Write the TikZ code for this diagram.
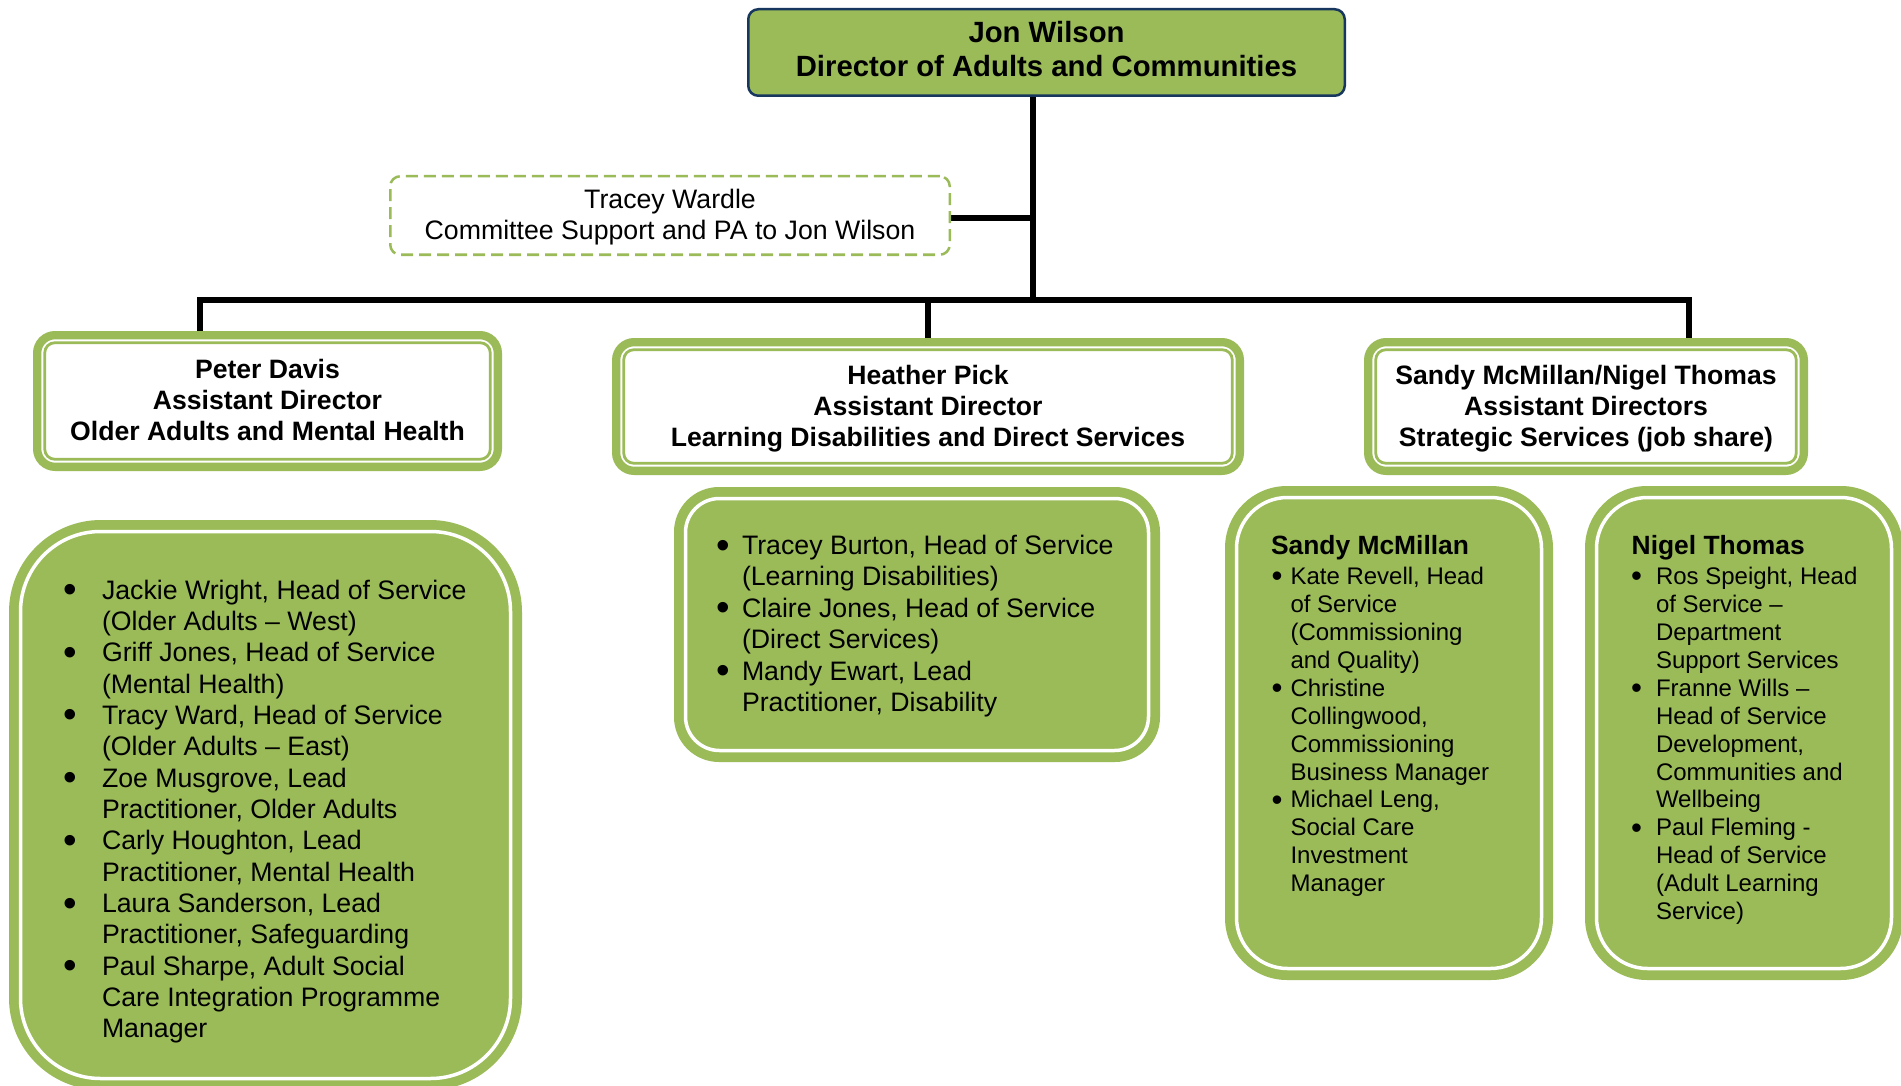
\documentclass[tikz,border=0pt]{standalone}
\usepackage{fontspec}
\usepackage{graphicx}
\setmainfont{Liberation Sans}
\definecolor{ogreen}{RGB}{155,187,89}
\definecolor{navyb}{RGB}{23,55,94}
\pgfdeclarelayer{bg}
\pgfsetlayers{bg,main}
\newcommand\BL[1]{\makebox[#1]{\raisebox{-3.5pt}{\scalebox{1.45}{•}}}}
\newcommand\BS[1]{\makebox[#1]{\raisebox{-2.2pt}{\scalebox{1.3}{•}}}}
\newcommand\ctab[1]{\begin{tabular}[t]{@{}c@{}}#1\end{tabular}}
\newcommand\fJon{\fontsize{29.3}{34}\selectfont\bfseries}
\newcommand\fLtwo{\fontsize{26.6}{31}\selectfont\bfseries}
\newcommand\fTW{\fontsize{26.7}{30.5}\selectfont}
\newcommand\fLeft{\fontsize{26.7}{31.35}\selectfont}
\newcommand\fMid{\fontsize{26.7}{31.4}\selectfont}
\newcommand\fRight{\fontsize{24}{27.9}\selectfont}
\newcommand\fTitle{\fontsize{26.4}{27.9}\selectfont\bfseries}
\begin{document}
\begin{tikzpicture}[x=1pt,y=-1pt,
  every node/.style={inner sep=0pt, outer sep=0pt},
  topbox/.style={draw=navyb, line width=2.5pt, fill=ogreen, rounded corners=10pt},
  dashbox/.style={draw=ogreen, line width=2.5pt, dash pattern=on 12pt off 6pt, rounded corners=10pt, fill=white},
  ltwobox/.style={draw=ogreen, line width=8.3pt, fill=white, rounded corners=18pt},
  ltwoinner/.style={draw=ogreen, line width=2.8pt, rounded corners=10pt},
  lthreebox/.style={fill=ogreen, draw=none},
  ring/.style={draw=white, line width=3.5pt},
  conn/.style={draw=black, line width=6pt, line cap=rect},
  ctxt/.style={anchor=base},
  ltxt/.style={anchor=base west},
]
\useasboundingbox (0,0) rectangle (1901,1086);
\clip (0,0) rectangle (1901,1086);

% top
\node[topbox, minimum width=596.5pt, minimum height=86.5pt] (jon) at (1046.5,52.5) {};
\node[ctxt] (jontxt) at (1046.5,43) {\fJon\ctab{Jon Wilson\\Director of Adults and Communities}};

% PA
\node[dashbox, minimum width=559.5pt, minimum height=78.5pt] (tracey) at (670,215.5) {};
\node[ctxt] (traceytxt) at (670,209) {\fTW\ctab{Tracey Wardle\\Committee Support and PA to Jon Wilson}};

% level 2
\node[ltwobox, minimum width=460.7pt, minimum height=131.7pt] (peter) at (267.5,401) {};
\draw[ltwoinner] ([shift={(7.6,7.6)}]peter.north west) rectangle ([shift={(-7.6,-7.6)}]peter.south east);
\node[ctxt] (petertxt) at (267.5,378.5) {\fLtwo\ctab{Peter Davis\\Assistant Director\\Older Adults and Mental Health}};

\node[ltwobox, minimum width=623.7pt, minimum height=128.7pt] (heather) at (928,406.5) {};
\draw[ltwoinner] ([shift={(7.6,7.6)}]heather.north west) rectangle ([shift={(-7.6,-7.6)}]heather.south east);
\node[ctxt] (heathertxt) at (928,384.5) {\fLtwo\ctab{Heather Pick\\Assistant Director\\Learning Disabilities and Direct Services}};

\node[ltwobox, minimum width=435.7pt, minimum height=128.7pt] (sn) at (1586,406.5) {};
\draw[ltwoinner] ([shift={(7.6,7.6)}]sn.north west) rectangle ([shift={(-7.6,-7.6)}]sn.south east);
\node[ctxt] (sntxt) at (1586,384.5) {\fLtwo\ctab{Sandy McMillan/Nigel Thomas\\Assistant Directors\\Strategic Services (job share)}};

% level 3
\node[lthreebox, rounded corners=92pt, minimum width=513pt, minimum height=570pt] (older) at (265.5,805) {};
\draw[ring, rounded corners=80pt] ([shift={(11.5,11.5)}]older.north west) rectangle ([shift={(-11.5,-11.5)}]older.south east);
\node[ltxt] (oldertxt) at (38,599) {\fLeft\begin{tabular}[t]{@{}l@{}l@{}}
\BL{64pt} & Jackie Wright, Head of Service\\
 & (Older Adults – West)\\
\BL{64pt} & Griff Jones, Head of Service\\
 & (Mental Health)\\
\BL{64pt} & Tracy Ward, Head of Service\\
 & (Older Adults – East)\\
\BL{64pt} & Zoe Musgrove, Lead\\
 & Practitioner, Older Adults\\
\BL{64pt} & Carly Houghton, Lead\\
 & Practitioner, Mental Health\\
\BL{64pt} & Laura Sanderson, Lead\\
 & Practitioner, Safeguarding\\
\BL{64pt} & Paul Sharpe, Adult Social\\
 & Care Integration Programme\\
 & Manager
\end{tabular}};

\node[lthreebox, rounded corners=45pt, minimum width=486pt, minimum height=275pt] (ld) at (917,624.5) {};
\draw[ring, rounded corners=34pt] ([shift={(11.5,11.5)}]ld.north west) rectangle ([shift={(-11.5,-11.5)}]ld.south east);
\node[ltxt] (ldtxt) at (704,554.5) {\fMid\begin{tabular}[t]{@{}l@{}l@{}}
\BL{38pt} & Tracey Burton, Head of Service\\
 & (Learning Disabilities)\\
\BL{38pt} & Claire Jones, Head of Service\\
 & (Direct Services)\\
\BL{38pt} & Mandy Ewart, Lead\\
 & Practitioner, Disability
\end{tabular}};

\node[lthreebox, rounded corners=62pt, minimum width=328pt, minimum height=494pt] (sandy) at (1389,733) {};
\draw[ring, rounded corners=51pt] ([shift={(11.5,11.5)}]sandy.north west) rectangle ([shift={(-11.5,-11.5)}]sandy.south east);
\node[ltxt] (sandytxt) at (1263.5,554.5) {\fRight\begin{tabular}[t]{@{}l@{}l@{}}
\multicolumn{2}{@{}l@{}}{\hspace*{7.5pt}\fTitle Sandy McMillan}\\[2.3pt]
\BS{27pt} & Kate Revell, Head\\
 & of Service\\
 & (Commissioning\\
 & and Quality)\\
\BS{27pt} & Christine\\
 & Collingwood,\\
 & Commissioning\\
 & Business Manager\\
\BS{27pt} & Michael Leng,\\
 & Social Care\\
 & Investment\\
 & Manager
\end{tabular}};

\node[lthreebox, rounded corners=62pt, minimum width=318pt, minimum height=494pt] (nigel) at (1744,733) {};
\draw[ring, rounded corners=51pt] ([shift={(11.5,11.5)}]nigel.north west) rectangle ([shift={(-11.5,-11.5)}]nigel.south east);
\node[ltxt] (nigeltxt) at (1617,554.5) {\fRight\begin{tabular}[t]{@{}l@{}l@{}}
\multicolumn{2}{@{}l@{}}{\hspace*{14.7pt}\fTitle Nigel Thomas}\\[2.3pt]
\BS{39pt} & Ros Speight, Head\\
 & of Service –\\
 & Department\\
 & Support Services\\
\BS{39pt} & Franne Wills –\\
 & Head of Service\\
 & Development,\\
 & Communities and\\
 & Wellbeing\\
\BS{39pt} & Paul Fleming -\\
 & Head of Service\\
 & (Adult Learning\\
 & Service)
\end{tabular}};

% connectors
\coordinate (busL) at (200,299.7);
\coordinate (busR) at (1689,299.7);
\coordinate (trunk) at (1033,299.7);
\coordinate (paend) at ([yshift=-2.5pt]tracey.east);
\begin{pgfonlayer}{bg}
\fill[white] (0,0) rectangle (1901,1086);
\draw[conn] (trunk |- jon.south) -- (trunk);
\draw[conn] (paend) -- (paend -| trunk);
\draw[conn] (busL) -- (busR);
\draw[conn] (busL) -- (busL |- peter.north);
\draw[conn] (heather.north |- busL) -- (heather.north);
\draw[conn] (busR) -- (busR |- sn.north);
\end{pgfonlayer}
\end{tikzpicture}
\end{document}
